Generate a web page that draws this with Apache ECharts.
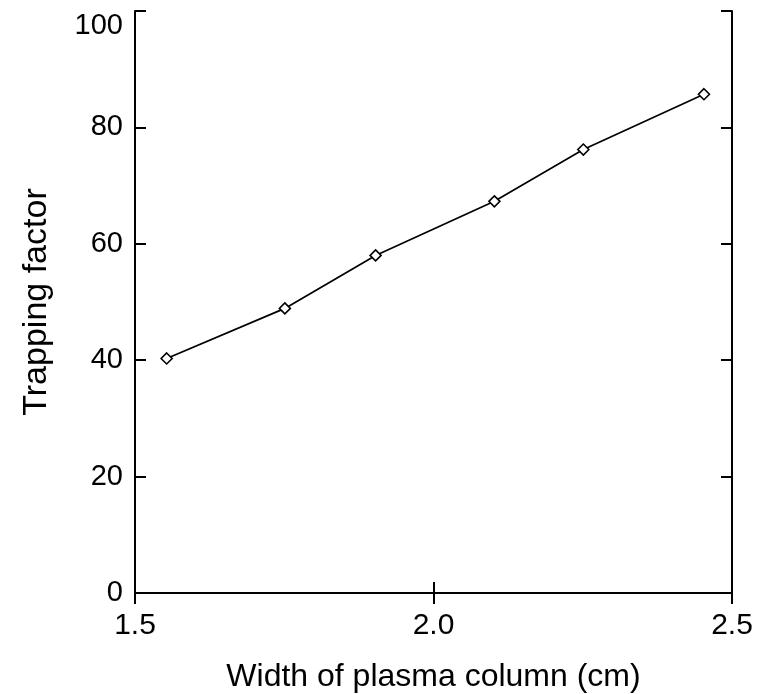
<!DOCTYPE html>
<html>
<head>
<meta charset="utf-8">
<script src="https://cdn.jsdelivr.net/npm/echarts@6/dist/echarts.min.js"></script>
<style>
  html, body { margin: 0; padding: 0; background: #fff; }
  #chart { width: 761px; height: 694px; }
</style>
</head>
<body>
<div id="chart"></div>
<script>
// 数据
var widths = [1.553, 1.751, 1.903, 2.102, 2.251, 2.453];
var trapping = [40.3, 48.9, 58.0, 67.3, 76.2, 85.7];
var xTicks = [1.5, 2.0, 2.5];
var yTicks = [0, 20, 40, 60, 80, 100];

var font = 'Liberation Sans, Arial, sans-serif';
var points = widths.map(function (w, i) { return [w, trapping[i]]; });

var chart = echarts.init(document.getElementById('chart'));

var axisLine = { show: true, lineStyle: { color: '#000', width: 2 } };
var tickIn = { show: true, inside: true, length: 11, lineStyle: { color: '#000', width: 2 } };

chart.setOption({
  animation: false,
  grid: { left: 135, right: 29, top: 11, bottom: 101, containLabel: false, outerBoundsMode: 'none' },
  xAxis: [
    {
      type: 'value', min: xTicks[0], max: xTicks[xTicks.length - 1], interval: 0.5,
      name: 'Width of plasma column (cm)', nameLocation: 'middle', nameGap: 68,
      nameTextStyle: { fontFamily: font, fontSize: 32, color: '#000' },
      axisLine: axisLine, axisTick: tickIn, splitLine: { show: false },
      axisLabel: { fontFamily: font, fontSize: 30, color: '#000', margin: 18,
        formatter: function (v) { return v.toFixed(1); } }
    },
    {
      type: 'value', position: 'top', min: xTicks[0], max: xTicks[xTicks.length - 1], interval: 0.5,
      axisLine: axisLine, axisTick: tickIn, axisLabel: { show: false }, splitLine: { show: false }
    }
  ],
  yAxis: [
    {
      type: 'value', min: yTicks[0], max: yTicks[yTicks.length - 1], interval: 20,
      name: 'Trapping factor', nameLocation: 'middle', nameGap: 81,
      nameTextStyle: { fontFamily: font, fontSize: 34, color: '#000' },
      axisLine: axisLine, axisTick: tickIn, splitLine: { show: false },
      axisLabel: { fontFamily: font, fontSize: 29, color: '#000', margin: 12,
        verticalAlignMaxLabel: 'top' }
    },
    {
      type: 'value', position: 'right', min: yTicks[0], max: yTicks[yTicks.length - 1], interval: 20,
      axisLine: axisLine, axisTick: tickIn, axisLabel: { show: false }, splitLine: { show: false }
    }
  ],
  series: [
    {
      type: 'line',
      data: points,
      symbol: 'diamond',
      symbolSize: 11,
      showAllSymbol: true,
      lineStyle: { color: '#000', width: 1.7 },
      itemStyle: { color: '#fff', borderColor: '#000', borderWidth: 1.6 }
    }
  ]
});
</script>
</body>
</html>
